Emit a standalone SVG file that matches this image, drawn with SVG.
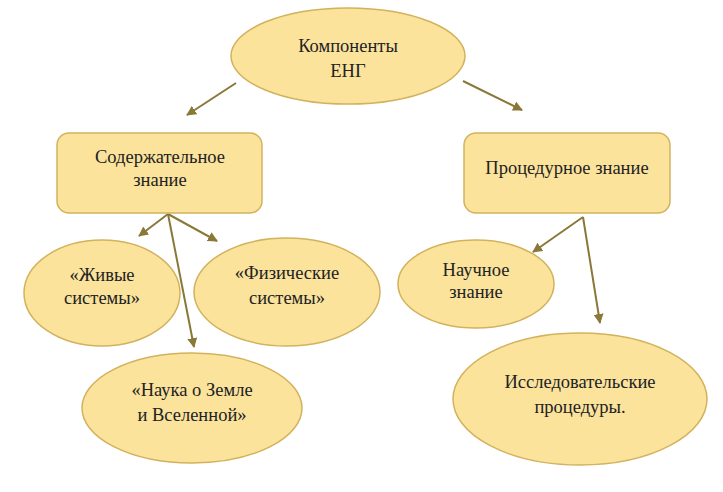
<svg xmlns="http://www.w3.org/2000/svg" width="723" height="492" viewBox="0 0 723 492">
<style>
.n{fill:#fbe39c;stroke:#d2b25c;stroke-width:1.5}
.c{stroke:#8a7838;stroke-width:2;fill:none;marker-end:url(#a)}
</style>
<defs>
<marker id="a" viewBox="0 0 10 10" refX="9" refY="5" markerWidth="5" markerHeight="5" orient="auto" markerUnits="strokeWidth">
<path d="M0,0 L10,5 L0,10 z" fill="#8a7838"/>
</marker>
</defs>
<rect width="723" height="492" fill="#fff"/>
<g id="connectors">
<line class="c" x1="236" y1="83" x2="187" y2="115"/>
<line class="c" x1="463" y1="81" x2="522" y2="110"/>
<line class="c" x1="168" y1="214" x2="139" y2="236"/>
<line class="c" x1="168" y1="214" x2="217" y2="241"/>
<line class="c" x1="168" y1="214" x2="194" y2="347"/>
<line class="c" x1="583" y1="217" x2="533" y2="252"/>
<line class="c" x1="583" y1="217" x2="600" y2="323"/>
</g>
<g font-family="Liberation Serif, Times New Roman, serif" font-size="18.5" fill="#222" text-anchor="middle">
<g id="n-root">
<ellipse class="n" cx="348" cy="56" rx="117" ry="48"/>
<text x="348" y="52">Компоненты</text>
<text x="348" y="77">ЕНГ</text>
</g>
<g id="n-content">
<rect class="n" x="57" y="133" width="205" height="80" rx="12"/>
<text x="160" y="163">Содержательное</text>
<text x="160" y="186">знание</text>
</g>
<g id="n-proc">
<rect class="n" x="464" y="133" width="206" height="80" rx="12"/>
<text x="567" y="174">Процедурное знание</text>
</g>
<g id="n-live">
<ellipse class="n" cx="102" cy="293" rx="78" ry="53"/>
<text x="102" y="281">«Живые</text>
<text x="102" y="304">системы»</text>
</g>
<g id="n-phys">
<ellipse class="n" cx="287" cy="292" rx="93" ry="54"/>
<text x="287" y="279">«Физические</text>
<text x="287" y="304">системы»</text>
</g>
<g id="n-earth">
<ellipse class="n" cx="192" cy="408" rx="110" ry="55"/>
<text x="192" y="396">«Наука о Земле</text>
<text x="192" y="421">и Вселенной»</text>
</g>
<g id="n-sci">
<ellipse class="n" cx="476" cy="284" rx="78" ry="44"/>
<text x="476" y="276">Научное</text>
<text x="476" y="298">знание</text>
</g>
<g id="n-research">
<ellipse class="n" cx="580" cy="399" rx="127" ry="66"/>
<text x="580" y="388">Исследовательские</text>
<text x="580" y="413">процедуры.</text>
</g>
</g>
</svg>
